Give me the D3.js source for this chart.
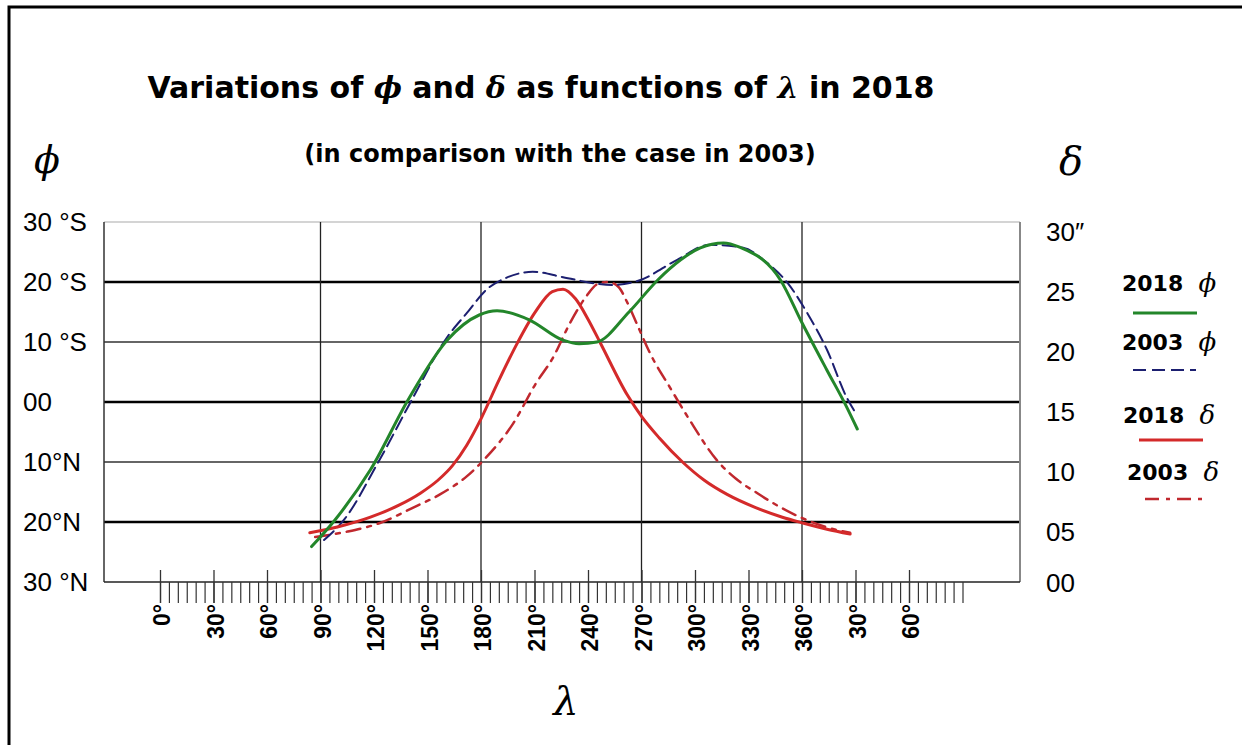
<!DOCTYPE html>
<html>
  <head>
    <meta charset="utf-8">
    <title>Variations of phi and delta</title>
    <style>
      body { margin: 0; background: #fff; }
      svg { display: block; }
    </style>
  </head>
  <body>
    <script src="https://d3js.org/d3.v7.min.js"></script>
    <svg id="chart" width="1242" height="745"></svg>
    <script>

      // data: [lambda in degrees (390 = 30 of the next turn), value]
      var phi2018 = [[85,-24.1],[98,-19.7],[118,-11.3],[139,0.3],[161,10.3],[179,14.5],[189,15.2],
        [207,13.7],[226,10.3],[235,9.7],[245,10.0],[263,15.0],[279,20.3],[292,23.7],[303,25.7],
        [316,26.5],[325,25.8],[348,20.3],[360,13.2],[374,5.3],[385,-0.8],[391,-4.5]];
      var phi2003 = [[92,-23],[103,-19.7],[123,-9.7],[142,0.8],[161,10.8],[172,14.8],[183,18.7],
        [195,20.8],[209,21.7],[226,20.8],[243,19.8],[254,19.5],[269,20.3],[290,23.7],[308,26.2],
        [327,25.7],[340,23.3],[352,19.8],[363,14.8],[374,8.7],[385,0.8],[390,-1.8]];
      var delta2018 = [[84,4.1],[100,4.6],[118,5.4],[134,6.4],[146,7.4],[156,8.5],[164,9.7],
        [172,11.4],[180,13.6],[190,16.8],[200,19.8],[210,22.4],[220,24.2],[226,24.4],[233,23.6],
        [240,21.9],[247,19.9],[262,15.6],[270,13.8],[280,12.0],[293,10.0],[305,8.5],[318,7.3],
        [334,6.2],[349,5.4],[361,4.9],[374,4.4],[387,4.0]];
      var delta2003 = [[87,3.75],[105,4.2],[123,4.9],[142,6.2],[157,7.3],[172,8.8],[183,10.4],
        [198,13.2],[211,16.6],[220,18.6],[230,21.6],[239,23.8],[245,24.8],[251,25.0],[257,24.6],
        [262,23.3],[268,21.3],[275,19.0],[286,16.2],[297,13.5],[312,10.2],[323,8.6],[335,7.4],
        [347,6.3],[359,5.4],[373,4.6],[387,4.1]];

      var phiTicks = [30, 20, 10, 0, -10, -20, -30];
      var phiLabels = ["30 \u00B0S", "20 \u00B0S", "10 \u00B0S", "00", "10\u00B0N", "20\u00B0N", "30 \u00B0N"];
      var deltaTicks = [30, 25, 20, 15, 10, 5, 0];
      var deltaLabels = ["30\u2033", "25", "20", "15", "10", "05", "00"];
      var lambdaTicks = [0, 30, 60, 90, 120, 150, 180, 210, 240, 270, 300, 330, 360, 390, 420];
      var lambdaLabels = ["0", "30", "60", "90", "120", "150", "180", "210", "240", "270", "300", "330", "360", "30", "60"];
      var thickPhi = [20, 0, -20];
      var thinPhi = [10, -10];
      var gridLambda = [90, 180, 270, 360];

      var svg = d3.select("svg");
      var plotL = 104, plotR = 1020, plotT = 222, plotB = 582;

      var x = d3.scaleLinear().domain([0, 360]).range([160, 802]);
      var yPhi = d3.scaleLinear().domain([-30, 30]).range([plotB, plotT]);
      var yDelta = d3.scaleLinear().domain([0, 30]).range([plotB, plotT]);

      // outer frame
      svg.append("rect")
        .attr("x", 9).attr("y", 7).attr("width", 1300).attr("height", 800)
        .attr("fill", "none").attr("stroke", "#000").attr("stroke-width", 3);

      // titles
      svg.append("text")
        .attr("x", 541).attr("y", 98)
        .attr("text-anchor", "middle")
        .attr("font-family", "DejaVu Sans").attr("font-weight", "bold").attr("font-size", 30)
        .html('Variations of <tspan font-family="DejaVu Serif" font-style="italic">\u03D5</tspan> and ' +
          '<tspan font-family="DejaVu Serif" font-style="italic">\u03B4</tspan> as functions of ' +
          '<tspan font-family="DejaVu Serif" font-style="italic">\u03BB</tspan>  in 2018');
      svg.append("text")
        .attr("x", 560).attr("y", 162)
        .attr("text-anchor", "middle")
        .attr("font-family", "DejaVu Sans").attr("font-weight", "bold").attr("font-size", 24)
        .text("(in comparison with the case in 2003)");

      // axis symbols
      svg.append("text").attr("x", 47).attr("y", 173).attr("text-anchor", "middle")
        .attr("font-family", "DejaVu Serif").attr("font-style", "italic").attr("font-size", 38)
        .text("\u03D5");
      svg.append("text").attr("x", 1071).attr("y", 175).attr("text-anchor", "middle")
        .attr("font-family", "DejaVu Serif").attr("font-style", "italic").attr("font-size", 40)
        .text("\u03B4");
      svg.append("text").attr("x", 566).attr("y", 715).attr("text-anchor", "middle")
        .attr("font-family", "DejaVu Serif").attr("font-style", "italic").attr("font-size", 40)
        .text("\u03BB");

      // grid
      var grid = svg.append("g");
      grid.append("line")
        .attr("x1", plotL).attr("x2", plotR).attr("y1", plotT).attr("y2", plotT)
        .attr("stroke", "#aaa").attr("stroke-width", 1.2);
      grid.selectAll(".thin").data(thinPhi).enter().append("line")
        .attr("x1", plotL).attr("x2", plotR)
        .attr("y1", d => yPhi(d)).attr("y2", d => yPhi(d))
        .attr("stroke", "#333").attr("stroke-width", 1.3);
      grid.selectAll(".thick").data(thickPhi).enter().append("line")
        .attr("x1", plotL).attr("x2", plotR)
        .attr("y1", d => yPhi(d)).attr("y2", d => yPhi(d))
        .attr("stroke", "#000").attr("stroke-width", 2.4);
      grid.selectAll(".vert").data(gridLambda).enter().append("line")
        .attr("x1", d => x(d)).attr("x2", d => x(d))
        .attr("y1", plotT).attr("y2", plotB)
        .attr("stroke", "#222").attr("stroke-width", 1.3);
      grid.append("line")
        .attr("x1", plotL).attr("x2", plotL).attr("y1", plotT).attr("y2", plotB)
        .attr("stroke", "#333").attr("stroke-width", 1.5);
      grid.append("line")
        .attr("x1", plotR).attr("x2", plotR).attr("y1", plotT).attr("y2", plotB)
        .attr("stroke", "#888").attr("stroke-width", 2);
      grid.append("line")
        .attr("x1", plotL).attr("x2", plotR).attr("y1", plotB).attr("y2", plotB)
        .attr("stroke", "#222").attr("stroke-width", 1.5);

      // lambda axis: minor ticks every 5 degrees, major every 30
      svg.append("g")
        .attr("transform", "translate(0," + plotB + ")")
        .call(d3.axisBottom(x).tickValues(d3.range(0, 451, 5)).tickSize(21).tickFormat(""))
        .call(g => g.select(".domain").remove())
        .call(g => g.selectAll("line").attr("stroke", "#333").attr("stroke-width", 1.2));
      svg.append("g")
        .attr("transform", "translate(0," + (plotB - 12) + ")")
        .call(d3.axisBottom(x).tickValues(lambdaTicks).tickSize(33).tickFormat(""))
        .call(g => g.select(".domain").remove())
        .call(g => g.selectAll("line").attr("stroke", "#333").attr("stroke-width", 1.3));
      svg.append("g").selectAll("text")
        .data(lambdaTicks).enter().append("text")
        .attr("transform", d => "translate(" + (x(d) + 2) + ",604) rotate(-90)")
        .attr("text-anchor", "end")
        .attr("dominant-baseline", "central")
        .attr("font-family", "Liberation Sans").attr("font-weight", "bold").attr("font-size", 23)
        .text((d, i) => lambdaLabels[i] + "\u00B0");

      // phi labels (left) and delta labels (right)
      svg.append("g").selectAll("text")
        .data(phiTicks).enter().append("text")
        .attr("x", 23).attr("y", d => yPhi(d))
        .attr("dominant-baseline", "central")
        .attr("font-family", "Liberation Sans").attr("font-size", 26)
        .text((d, i) => phiLabels[i]);
      svg.append("g").selectAll("text")
        .data(deltaTicks).enter().append("text")
        .attr("x", 1046).attr("y", d => yDelta(d) + (d === 0 ? 1 : 10))
        .attr("dominant-baseline", "central")
        .attr("font-family", "Liberation Sans").attr("font-size", 26)
        .text((d, i) => deltaLabels[i]);

      // curves
      var linePhi = d3.line().x(d => x(d[0])).y(d => yPhi(d[1])).curve(d3.curveMonotoneX);
      var lineDelta = d3.line().x(d => x(d[0])).y(d => yDelta(d[1])).curve(d3.curveMonotoneX);

      var series = [
        { data: phi2018, line: linePhi, color: "#23862a", width: 3, dash: null, label: "2018 ", sym: "\u03D5", ly: 283, lx: 1122, l1: 1133, l2: 1197, lly: 313 },
        { data: phi2003, line: linePhi, color: "#1c1f70", width: 2, dash: "13,6", label: "2003 ", sym: "\u03D5", ly: 342, lx: 1122, l1: 1133, l2: 1196, lly: 370 },
        { data: delta2018, line: lineDelta, color: "#d42a2a", width: 3, dash: null, label: "2018 ", sym: "\u03B4", ly: 415, lx: 1123, l1: 1139, l2: 1203, lly: 440 },
        { data: delta2003, line: lineDelta, color: "#c0282e", width: 2.5, dash: "14,7,4,7", label: "2003 ", sym: "\u03B4", ly: 472, lx: 1127, l1: 1145, l2: 1206, lly: 499 }
      ];

      // draw dash-dot first, then dashed, then solid
      [3, 1, 2, 0].forEach(function (i) {
        var s = series[i];
        svg.append("path")
          .attr("d", s.line(s.data))
          .attr("fill", "none")
          .attr("stroke", s.color)
          .attr("stroke-width", s.width)
          .attr("stroke-dasharray", s.dash)
          .attr("stroke-linecap", "round");
      });

      // legend
      var legend = svg.append("g");
      series.forEach(function (s) {
        legend.append("text")
          .attr("x", s.lx).attr("y", s.ly)
          .attr("dominant-baseline", "central")
          .attr("font-family", "DejaVu Sans").attr("font-weight", "bold").attr("font-size", 22)
          .attr("xml:space", "preserve")
          .html(s.label + ' <tspan font-family="DejaVu Serif" font-style="italic" font-weight="normal" font-size="26">' + s.sym + '</tspan>');
        legend.append("line")
          .attr("x1", s.l1).attr("x2", s.l2).attr("y1", s.lly).attr("y2", s.lly)
          .attr("stroke", s.color).attr("stroke-width", s.width)
          .attr("stroke-dasharray", s.dash);
      });
    </script>
  </body>
</html>
